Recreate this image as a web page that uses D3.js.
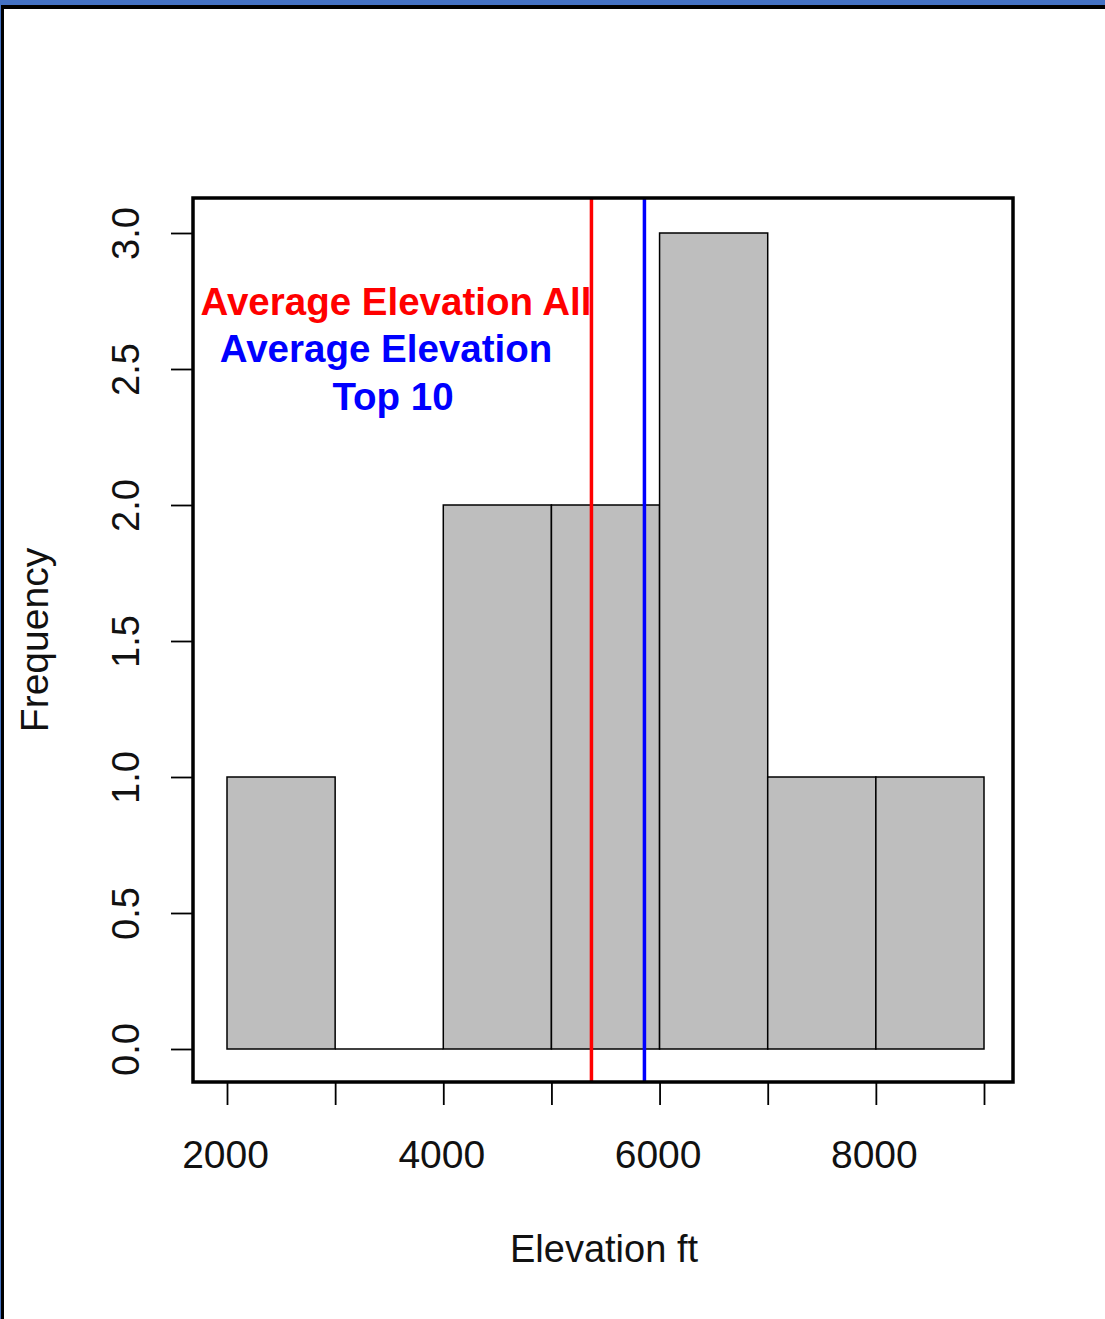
<!DOCTYPE html>
<html>
<head>
<meta charset="utf-8">
<script src="https://cdn.jsdelivr.net/npm/d3@7"></script>
<style>
  body { margin: 0; background: #4472c4; }
  #chart { position: absolute; left: 0; top: 0; }
  text { font-family: "Liberation Sans", Arial, sans-serif; }
</style>
</head>
<body>
<div id="chart"></div>
<script>
// Histogramm-Daten: Klassengrenzen und Häufigkeiten
const binStarts = [2000, 3000, 4000, 5000, 6000, 7000, 8000];
const binWidth = 1000;
const counts = [1, 0, 2, 2, 3, 1, 1];
const xTicks = [2000, 3000, 4000, 5000, 6000, 7000, 8000, 9000];
const xLabels = [2000, 4000, 6000, 8000];
const yTicks = [0, 0.5, 1, 1.5, 2, 2.5, 3];
const avgAll = 5370;   // rote Linie
const avgTop10 = 5860; // blaue Linie

const width = 1105;
const height = 1319;

const svg = d3.select("#chart")
    .append("svg")
    .attr("width", width)
    .attr("height", height);

// Rahmen des Screenshots (blau oben, schwarz innen)
svg.append("rect").attr("x", 0).attr("y", 0).attr("width", width).attr("height", height).attr("fill", "#4472c4");
svg.append("rect").attr("x", 1).attr("y", 5).attr("width", width - 1).attr("height", height - 5).attr("fill", "#000");
svg.append("rect").attr("x", 4).attr("y", 9).attr("width", width - 4).attr("height", height - 9).attr("fill", "#fff");

// Plotbox wie in R
const box = {left: 193, right: 1013, top: 198, bottom: 1082};

const xScale = d3.scaleLinear()
    .domain([2000, 9000])
    .range([227, 984]);

const yScale = d3.scaleLinear()
    .domain([0, 3])
    .range([1049, 233]);

// Balken
svg.selectAll("rect.bar")
    .data(binStarts.map((s, i) => ({start: s, count: counts[i]})).filter(d => d.count > 0))
    .join("rect")
    .attr("class", "bar")
    .attr("x", d => xScale(d.start))
    .attr("y", d => yScale(d.count))
    .attr("width", d => xScale(d.start + binWidth) - xScale(d.start))
    .attr("height", d => yScale(0) - yScale(d.count))
    .attr("fill", "#bebebe")
    .attr("stroke", "#000")
    .attr("stroke-width", 1.5);

// Grundlinie der leeren Klasse
svg.append("line")
    .attr("x1", xScale(3000)).attr("x2", xScale(4000))
    .attr("y1", yScale(0)).attr("y2", yScale(0))
    .attr("stroke", "#000").attr("stroke-width", 1.5);

// Mittelwert-Linien
svg.append("line")
    .attr("x1", xScale(avgAll)).attr("x2", xScale(avgAll))
    .attr("y1", box.top).attr("y2", box.bottom)
    .attr("stroke", "#ff0000").attr("stroke-width", 3.5);
svg.append("line")
    .attr("x1", xScale(avgTop10)).attr("x2", xScale(avgTop10))
    .attr("y1", box.top).attr("y2", box.bottom)
    .attr("stroke", "#0000ff").attr("stroke-width", 3.5);

// Box
svg.append("rect")
    .attr("x", box.left).attr("y", box.top)
    .attr("width", box.right - box.left).attr("height", box.bottom - box.top)
    .attr("fill", "none").attr("stroke", "#000").attr("stroke-width", 3.5);

// X-Achse
const bottomAxis = d3.axisBottom(xScale)
    .tickValues(xTicks)
    .tickSize(22)
    .tickPadding(35)
    .tickFormat(d => xLabels.includes(d) ? d : "");
const gx = svg.append("g")
    .attr("transform", `translate(0, ${box.bottom + 1})`)
    .call(bottomAxis);
gx.select(".domain").remove();
gx.selectAll(".tick line").attr("stroke-width", 1.8);
gx.selectAll(".tick text").attr("font-size", 39).attr("fill", "#111")
    .attr("dx", -2);

// Y-Achse
const leftAxis = d3.axisLeft(yScale)
    .tickValues(yTicks)
    .tickSize(21)
    .tickFormat(d3.format(".1f"));
const gy = svg.append("g")
    .attr("transform", `translate(${box.left - 1}, 0)`)
    .call(leftAxis);
gy.select(".domain").remove();
gy.selectAll(".tick line").attr("stroke-width", 1.8);
gy.selectAll(".tick text")
    .attr("font-size", 38)
    .attr("fill", "#111")
    .attr("text-anchor", "middle")
    .attr("x", 0).attr("dy", 0)
    .attr("transform", "translate(-53, 0) rotate(-90)")
    .attr("y", 0)
    .attr("dominant-baseline", "auto");

// Achsenbeschriftungen
svg.append("text")
    .text("Elevation ft")
    .attr("x", 604).attr("y", 1262)
    .attr("text-anchor", "middle")
    .attr("font-size", 38).attr("fill", "#111");
svg.append("text")
    .text("Frequency")
    .attr("transform", "translate(48, 640) rotate(-90)")
    .attr("text-anchor", "middle")
    .attr("font-size", 39).attr("fill", "#111");

// Legenden-Text
svg.append("text")
    .text("Average Elevation All")
    .attr("x", 396).attr("y", 315)
    .attr("text-anchor", "middle")
    .attr("font-size", 38.5).attr("font-weight", "bold").attr("fill", "#ff0000");
svg.append("text")
    .text("Average Elevation")
    .attr("x", 386).attr("y", 362)
    .attr("text-anchor", "middle")
    .attr("font-size", 38.5).attr("font-weight", "bold").attr("fill", "#0000ff");
svg.append("text")
    .text("Top 10")
    .attr("x", 393).attr("y", 410)
    .attr("text-anchor", "middle")
    .attr("font-size", 38.5).attr("font-weight", "bold").attr("fill", "#0000ff");
</script>
</body>
</html>
